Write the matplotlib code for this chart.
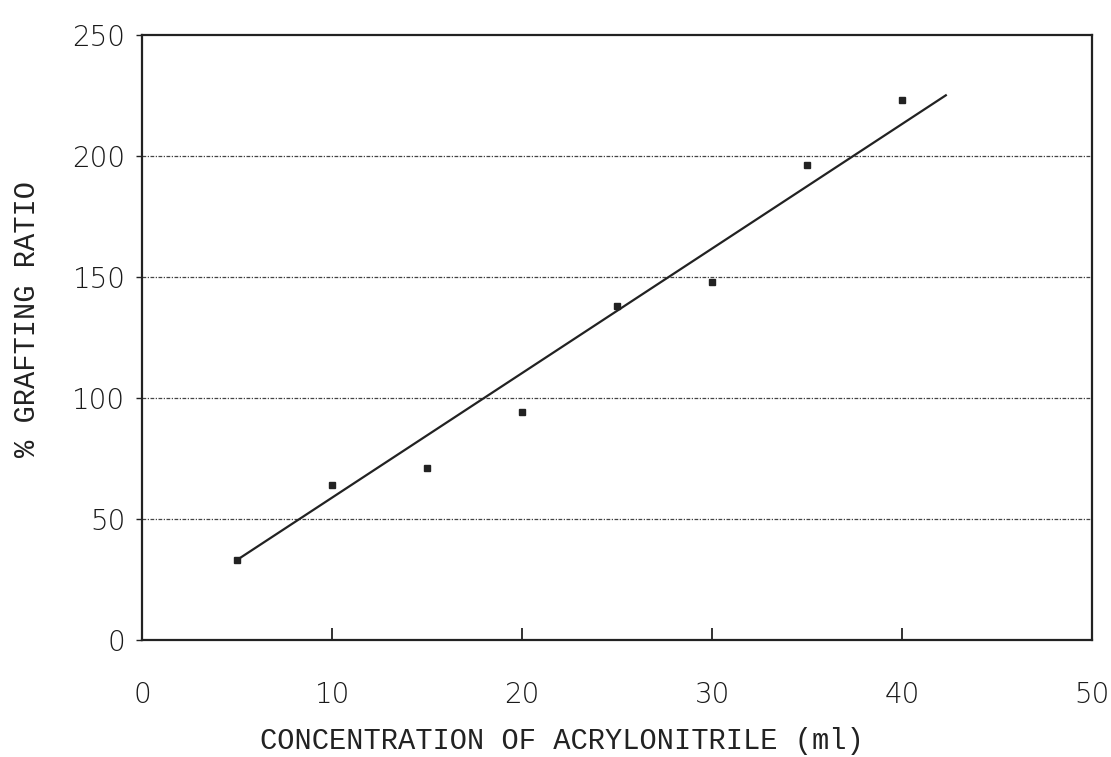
import matplotlib.pyplot as plt

# acrylonitrile concentration (ml) vs grafting ratio (%)
conc = [5, 10, 15, 20, 25, 30, 35, 40]
grafting = [33, 64, 71, 94, 138, 148, 196, 223]

# straight line drawn through the points
fit_x = [5, 42.3]
fit_y = [33, 225]

x_ticks = [0, 10, 20, 30, 40, 50]
y_ticks = [0, 50, 100, 150, 200, 250]
grid_levels = [50, 100, 150, 200]

fig = plt.figure(figsize=(11.11, 7.57), dpi=100)
ax = fig.add_axes([0.128, 0.155, 0.855, 0.799])

for lvl in grid_levels:
    ax.axhline(lvl, color="#444444", lw=0.9, ls=(0, (3, 1.2, 1, 1.2)), zorder=1)

ax.plot(fit_x, fit_y, color="#222222", lw=1.6, zorder=3)
ax.plot(conc, grafting, ls="none", marker="s", ms=4.5, color="#222222", zorder=4)

ax.set_xlim(0, 50)
ax.set_ylim(0, 250)
ax.set_xticks(x_ticks)
ax.set_yticks(y_ticks)

for sp in ax.spines.values():
    sp.set_linewidth(1.6)
    sp.set_color("#222222")

tick_font = {"family": "DejaVu Sans", "size": 20, "weight": "light"}
ax.set_xticklabels([str(t) for t in x_ticks], fontdict=tick_font)
ax.set_yticklabels([str(t) for t in y_ticks], fontdict=tick_font)
ax.tick_params(axis="x", direction="in", length=9, width=1.3, pad=30, colors="#222222")
ax.tick_params(axis="y", direction="out", length=4, width=1.0, pad=8, colors="#222222")
for lab in ax.get_xticklabels() + ax.get_yticklabels():
    lab.set_color("#1a1a1a")

label_font = {"family": "Liberation Mono", "size": 20.7}
ax.set_xlabel("CONCENTRATION OF ACRYLONITRILE (ml)", fontdict=label_font, color="#222222")
ax.set_ylabel("% GRAFTING RATIO", fontdict=label_font, color="#222222")
ax.xaxis.set_label_coords(0.442, -0.145)
ax.yaxis.set_label_coords(-0.107, 0.53)

fig.savefig("out.png", dpi=100)
